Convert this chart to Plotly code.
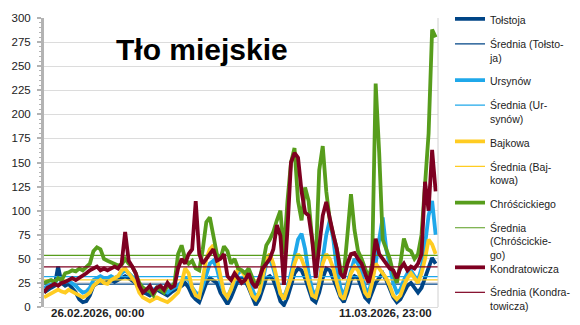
import pandas as pd
import plotly.graph_objects as go

# 3-hourly readings, 26.02.2026 00:00 -> 11.03.2026 21:00
times = pd.date_range("2026-02-26 00:00", periods=112, freq="3h")

tolstoja = [15, 18, 20, 22, 42, 25, 22, 24, 20, 15, 8, 5, 6, 12,
            22, 25, 27, 25, 26, 28, 26, 28, 30, 32, 30, 28, 25,
            18, 15, 14, 12, 15, 18, 16, 14, 12, 15, 18, 20,
            22, 25, 20, 12, 8, 5, 15, 25, 30, 28, 25, 15, 8, 3,
            10, 20, 28, 30, 27, 20, 10, 2, 8, 20, 30, 32, 28, 18, 6, 2,
            10, 22, 35, 40, 38, 30, 18, 8, 5, 15, 30, 40, 38, 30, 20, 10, 5,
            15, 28, 32, 30, 20, 10, 6, 15, 25, 30, 35, 28, 18, 10, 5,
            8, 15, 22, 25, 20, 15, 20, 30, 40, 51, 45]

ursynow = [20, 22, 24, 25, 30, 28, 26, 27, 25, 22, 18, 15, 16, 20,
           28, 30, 32, 30, 30, 32, 30, 32, 35, 38, 35, 32, 28,
           22, 20, 18, 16, 18, 20, 18, 16, 15, 18, 20, 22,
           26, 30, 28, 20, 15, 12, 22, 35, 45, 48, 40, 25, 15, 10,
           18, 28, 35, 38, 35, 28, 18, 10, 15, 28, 45, 50, 40, 28, 14, 10,
           20, 35, 55, 70, 76, 60, 35, 18, 12, 25, 50, 75, 90, 70, 40, 20, 12,
           25, 40, 50, 45, 35, 20, 14, 30, 45, 70, 93, 60, 40, 25, 15,
           18, 28, 35, 38, 32, 28, 40, 65, 95, 110, 75]

bajkowa = [10, 12, 14, 15, 18, 16, 15, 18, 16, 14, 12, 10, 12, 15,
           22, 25, 28, 25, 24, 28, 30, 32, 38, 40, 35, 30, 25,
           15, 10, 8, 6, 8, 10, 8, 6, 5, 8, 12, 15,
           25, 40, 35, 20, 12, 10, 30, 50, 60, 64, 50, 30, 15, 10,
           18, 30, 40, 38, 32, 22, 12, 8, 15, 32, 50, 55, 45, 30, 14, 8,
           18, 30, 45, 55, 50, 40, 25, 12, 10, 25, 45, 55, 50, 40, 25, 12, 8,
           20, 35, 42, 38, 28, 15, 10, 25, 45, 40, 35, 30, 22, 12, 8,
           12, 22, 30, 35, 30, 25, 35, 50, 70, 65, 55]

chroscickiego = [25, 27, 28, 26, 30, 28, 35, 36, 38, 37, 40, 38, 42, 45,
                 58, 62, 60, 50, 48, 46, 45, 43, 44, 50, 45, 42, 35,
                 25, 20, 18, 16, 12, 20, 18, 15, 22, 20, 25, 55,
                 64, 50, 45, 48, 40, 38, 60, 88, 93, 75, 55, 50, 63, 58,
                 45, 50, 40, 38, 35, 40, 30, 22, 25, 45, 64, 70, 78, 90, 100, 55,
                 110, 150, 165, 110, 90, 124, 110, 70, 45, 142, 167, 120, 90, 75, 60, 40, 35,
                 75, 117, 80, 58, 50, 40, 30, 45, 232, 160, 70, 60, 50, 35, 25,
                 45, 71, 60, 58, 50, 55, 75, 130, 180, 288, 280]

kondratowicza = [15, 20, 22, 24, 22, 25, 26, 28, 30, 28, 30, 32, 35, 38,
                 40, 42, 38, 40, 38, 40, 42, 40, 45, 78, 48, 42, 35,
                 22, 15, 18, 22, 15, 20, 22, 18, 25, 20, 22, 40,
                 50, 45, 55, 60, 110, 55, 45, 50, 55, 60, 48, 50, 55, 32,
                 28, 35, 30, 25, 28, 35, 25, 20, 30, 40, 45, 50, 60, 85, 74, 23,
                 80, 150, 160, 155, 120, 98, 95, 70, 30, 60, 95, 109, 90, 75, 60, 35, 30,
                 45, 55, 56, 50, 45, 35, 25, 40, 71, 55, 50, 45, 40, 38, 30,
                 40, 45, 38, 42, 40, 45, 55, 130, 100, 163, 120]

# period averages (horizontal lines)
mean_tolstoja = 23.7
mean_ursynow = 31.5
mean_bajkowa = 28.1
mean_chroscickiego = 53.6
mean_kondratowicza = 41.7

x_start = "2026-02-26 00:00"
x_end = "2026-03-11 23:00"
label_start = "26.02.2026, 00:00"
label_end = "11.03.2026, 23:00"
title_text = "Tło miejskie"

stations = [
    ("Tołstoja", "Średnia (Tołsto-<br>ja)", tolstoja, mean_tolstoja, "#004586"),
    ("Ursynów", "Średnia (Ur-<br>synów)", ursynow, mean_ursynow, "#1fa8ea"),
    ("Bajkowa", "Średnia (Baj-<br>kowa)", bajkowa, mean_bajkowa, "#ffcc22"),
    ("Chróścickiego", "Średnia<br>(Chróścickie-<br>go)", chroscickiego, mean_chroscickiego, "#579d1c"),
    ("Kondratowicza", "Średnia (Kondra-<br>towicza)", kondratowicza, mean_kondratowicza, "#7e0021"),
]

fig = go.Figure()
for k, (name, mname, vals, mval, col) in enumerate(stations):
    leg = "legend2" if k == 4 else "legend"
    fig.add_trace(go.Scatter(x=times, y=vals, mode="lines", name=name,
                             line=dict(color=col, width=3.8),
                             legendgroup=name, legend=leg))
    fig.add_trace(go.Scatter(x=[x_start, x_end], y=[mval, mval], mode="lines",
                             name=mname, line=dict(color=col, width=1.2),
                             legendgroup=mname, legend=leg))

legend_common = dict(font=dict(family="Liberation Sans, Arial, sans-serif", size=10.5, color="#222222"),
                     xref="container", yref="container", xanchor="left", yanchor="top",
                     bgcolor="rgba(0,0,0,0)", borderwidth=0, valign="top",
                     tracegroupgap=6, itemwidth=30, maxheight=330)

fig.update_layout(
    width=580, height=325,
    margin=dict(l=42, r=133, t=14, b=15),
    paper_bgcolor="white", plot_bgcolor="white",
    font=dict(family="Liberation Sans, Arial, sans-serif", size=11, color="#222222"),
    showlegend=True,
    legend=dict(x=450 / 580, y=1 - 5.5 / 325, **legend_common),
    legend2=dict(x=450 / 580, y=1 - 254 / 325, **legend_common),
    xaxis=dict(range=[x_start, x_end], showgrid=False, zeroline=False, showline=False,
               showticklabels=False, ticks=""),
    yaxis=dict(range=[0, 300], dtick=25, tick0=0, showgrid=True, gridcolor="#dcdcdc", gridwidth=1,
               zeroline=True, zerolinecolor="#dcdcdc", zerolinewidth=1,
               showline=True, linecolor="#b3b3b3", linewidth=3,
               ticks="outside", ticklen=4, tickwidth=2, tickcolor="#b3b3b3",
               minor=dict(dtick=5, ticks="outside", ticklen=2, tickwidth=1, tickcolor="#b3b3b3",
                          showgrid=False),
               tickfont=dict(size=11.5, color="#222222"), ticklabelstandoff=4),
    annotations=[
        dict(text="<b>" + title_text + "</b>", xref="paper", yref="paper", x=0.402, y=0.892,
             showarrow=False, font=dict(size=30, color="black"), xanchor="center", yanchor="middle"),
        dict(text="<b>" + label_start + "</b>", xref="paper", yref="paper", x=0.012, y=0,
             xanchor="left", yanchor="middle", yshift=-6, showarrow=False,
             font=dict(size=11.5, color="#222222")),
        dict(text="<b>" + label_end + "</b>", xref="paper", yref="paper", x=0.99, y=0,
             xanchor="right", yanchor="middle", yshift=-6, showarrow=False,
             font=dict(size=11.5, color="#222222")),
    ],
    shapes=[dict(type="line", xref="paper", yref="paper", x0=1, x1=1, y0=0, y1=1,
                 line=dict(color="#d0d0d0", width=1))],
)

fig.write_html("out.html")
